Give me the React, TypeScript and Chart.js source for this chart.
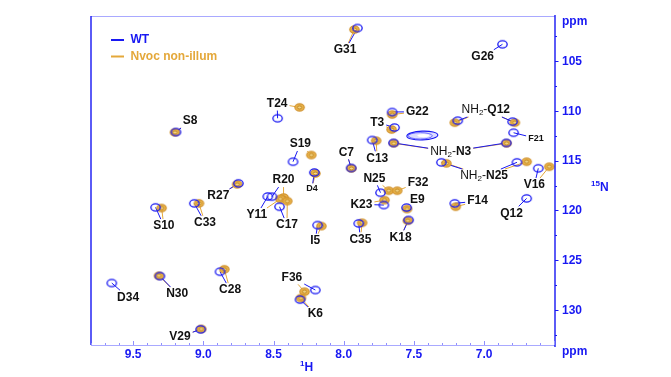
import React, { useEffect, useRef } from "react";
import { Chart, registerables } from "chart.js";
Chart.register(...registerables);

// ---- data (ppm) ----
const seriesNames = ["WT", "Nvoc non-illum"];
const peakLabels = [
  "G31", "G26", "T24", "G22", "T3", "NH₂-Q12", "NH₂-Q12", "F21", "NH₂-N3", "NH₂-N3",
  "S8", "C13", "S19", "C7", "D4", "NH₂-N25", "NH₂-N25", "V16", "R27", "R20",
  "Y11", "C17", "N25", "F32", "K23", "E9", "K18", "F14", "Q12", "S10",
  "C33", "I5", "C35", "D34", "N30", "C28", "F36", "K6", "V29",
];
const labelH = [
  7.99, 7.01, 8.474, 7.476, 7.761, 6.988, 6.988, 6.631, 7.238, 7.238,
  9.095, 7.761, 8.309, 7.981, 8.226, 7.0, 7.0, 6.642, 8.893, 8.429,
  8.619, 8.404, 7.781, 7.471, 7.874, 7.476, 7.595, 7.047, 6.804, 9.281,
  8.988, 8.203, 7.881, 9.536, 9.186, 8.809, 8.369, 8.202, 9.166,
];
const labelN = [
  103.9, 104.57, 109.27, 110.09, 111.15, 109.92, 109.92, 112.76, 114.1, 114.1,
  111.02, 114.77, 113.33, 114.17, 117.78, 116.55, 116.55, 117.45, 118.55, 116.95,
  120.46, 121.47, 116.78, 117.22, 119.39, 118.89, 122.7, 119.06, 120.29, 121.57,
  121.24, 123.04, 122.9, 128.72, 128.39, 128.0, 126.72, 130.4, 132.68,
];
const wtH = [
  7.902, 6.869, 8.471, 7.655, 7.638, 7.188, 6.797, 6.79, 7.645, 6.842,
  9.195, 7.797, 8.361, 7.947, 8.209, 7.304, 6.766, 6.614, 8.75, 8.511,
  8.541, 8.457, 7.738, null, 7.714, 7.552, 7.538, 7.209, 6.697, 9.34,
  9.064, 8.186, 7.893, 9.652, 9.309, 8.881, 8.202, 8.311, 9.019,
];
const wtN = [
  101.69, 103.32, 110.75, 110.12, 111.68, 110.99, 111.09, 112.2, 113.22, 113.22,
  112.13, 112.93, 115.11, 115.74, 116.19, 115.17, 115.17, 115.77, 117.28, 118.62,
  118.6, 119.63, 118.22, null, 119.46, 119.71, 120.96, 119.29, 118.79, 119.69,
  119.29, 121.47, 121.3, 127.29, 126.59, 126.15, 127.99, 128.95, 131.94,
];
const nvocH = [
  7.924, null, 8.314, 7.655, 7.659, 7.209, 6.781, null, 7.643, 6.84,
  9.202, 7.769, 8.231, 7.945, 8.202, 7.269, 6.697, 6.536, 8.759, 8.428,
  8.452, 8.402, 7.679, 7.619, 7.709, 7.549, 7.543, 7.202, null, 9.297,
  9.031, 8.159, 7.869, null, 9.316, 8.85, 8.279, 8.305, 9.015,
];
const nvocN = [
  101.84, null, 109.65, 110.37, 111.88, 111.19, 111.19, null, 113.26, 113.26,
  112.16, 113.0, 114.44, 115.78, 116.29, 115.27, 115.11, 115.61, 117.38, 118.7,
  118.84, 119.06, 118.02, 118.02, 118.96, 119.86, 121.03, 119.63, null, 119.76,
  119.29, 121.57, 121.24, null, 126.56, 125.91, 128.16, 128.8, 131.9,
];
const broadH = [7.44];
const broadN = [112.48];
const xTickLabels = [9.5, 9.0, 8.5, 8.0, 7.5, 7.0];
const yTickLabels = [105, 110, 115, 120, 125, 130];

// ---- styles ----
const BLUE = "#1818f2";
const ORANGE = "#E4A83A";
const LIGHT = "#a9a9ff";
const LABEL_FONT = '"Liberation Sans", Arial, sans-serif';
const smallLabels = ["F21", "D4"];

function makeMarker(kind: "wt" | "nv"): HTMLCanvasElement {
  const c = document.createElement("canvas");
  c.width = 13;
  c.height = 11;
  const g = c.getContext("2d")!;
  g.beginPath();
  g.ellipse(6.5, 5.5, 4.7, 3.6, 0, 0, Math.PI * 2);
  if (kind === "wt") {
    g.strokeStyle = BLUE;
    g.lineWidth = 1.3;
    g.stroke();
  } else {
    g.fillStyle = "#EAB44A";
    g.fill();
    g.strokeStyle = "#D0902A";
    g.lineWidth = 1.1;
    g.stroke();
    g.beginPath();
    g.ellipse(6.5, 5.5, 2.2, 1.5, 0, 0, Math.PI * 2);
    g.fillStyle = "#F6D98A";
    g.fill();
    g.strokeStyle = "#B97E1C";
    g.lineWidth = 0.9;
    g.stroke();
  }
  return c;
}

function labelParts(text: string) {
  if (text.startsWith("NH₂-")) {
    return [
      { t: "NH", f: `12px ${LABEL_FONT}`, dy: 0 },
      { t: "2", f: `8px ${LABEL_FONT}`, dy: 3 },
      { t: "-", f: `12px ${LABEL_FONT}`, dy: 0 },
      { t: text.slice(4), f: `bold 12px ${LABEL_FONT}`, dy: 0 },
    ];
  }
  const small = smallLabels.includes(text);
  return [{ t: text, f: `bold ${small ? 9 : 12}px ${LABEL_FONT}`, dy: 0 }];
}

function measureLabel(ctx: CanvasRenderingContext2D, text: string) {
  let w = 0;
  for (const p of labelParts(text)) {
    ctx.font = p.f;
    w += ctx.measureText(p.t).width;
  }
  return w;
}

function drawLabel(ctx: CanvasRenderingContext2D, text: string, cx: number, cy: number) {
  const parts = labelParts(text);
  let x = cx - measureLabel(ctx, text) / 2;
  ctx.textAlign = "left";
  ctx.textBaseline = "middle";
  ctx.fillStyle = "#111";
  for (const p of parts) {
    ctx.font = p.f;
    ctx.fillText(p.t, x, cy + p.dy);
    x += ctx.measureText(p.t).width;
  }
}

const overlayPlugin = {
  id: "nmrOverlay",
  beforeDatasetsDraw(chart: any) {
    const ctx = chart.ctx as CanvasRenderingContext2D;
    const xs = chart.scales.x;
    const ys = chart.scales.y;
    ctx.save();
    // broad side-chain peak
    broadH.forEach((h, i) => {
      const x = xs.getPixelForValue(h);
      const y = ys.getPixelForValue(broadN[i]);
      ctx.fillStyle = "#dcdcff";
      ctx.beginPath();
      ctx.ellipse(x, y, 15.5, 4.4, -0.04, 0, Math.PI * 2);
      ctx.fill();
      ctx.strokeStyle = BLUE;
      ctx.lineWidth = 1.1;
      ctx.stroke();
      ctx.beginPath();
      ctx.ellipse(x - 2, y + 0.3, 12, 3.2, 0, 0, Math.PI * 2);
      ctx.strokeStyle = "#5050ff";
      ctx.lineWidth = 0.8;
      ctx.stroke();
      ctx.beginPath();
      ctx.ellipse(x + 1, y, 6, 1.6, 0, 0, Math.PI * 2);
      ctx.fillStyle = "#ffffff";
      ctx.fill();
    });
    // connector lines
    peakLabels.forEach((lab, i) => {
      const cx = xs.getPixelForValue(labelH[i]);
      const cy = ys.getPixelForValue(labelN[i]);
      const hw = measureLabel(ctx, lab) / 2 + 2;
      const hh = smallLabels.includes(lab) ? 5 : 7;
      const targets: [number | null, number | null, string][] = [
        [nvocH[i], nvocN[i], ORANGE],
        [wtH[i], wtN[i], BLUE],
      ];
      for (const [h, n, col] of targets) {
        if (h == null || n == null) continue;
        const px = xs.getPixelForValue(h);
        const py = ys.getPixelForValue(n);
        const dx = px - cx;
        const dy = py - cy;
        const t = Math.min(
          dx !== 0 ? hw / Math.abs(dx) : Infinity,
          dy !== 0 ? hh / Math.abs(dy) : Infinity
        );
        if (t >= 1) continue;
        ctx.beginPath();
        ctx.moveTo(cx + dx * t, cy + dy * t);
        ctx.lineTo(px, py);
        ctx.strokeStyle = col;
        ctx.lineWidth = 1;
        ctx.stroke();
      }
    });
    ctx.restore();
  },
  afterDatasetsDraw(chart: any) {
    const ctx = chart.ctx as CanvasRenderingContext2D;
    const xs = chart.scales.x;
    const ys = chart.scales.y;
    ctx.save();
    const seen = new Set<string>();
    peakLabels.forEach((lab, i) => {
      const key = lab + labelH[i] + "," + labelN[i];
      if (seen.has(key)) return;
      seen.add(key);
      drawLabel(ctx, lab, xs.getPixelForValue(labelH[i]), ys.getPixelForValue(labelN[i]));
    });
    // legend
    const ca = chart.chartArea;
    const lx = ca.left + 20;
    const ly = ca.top + 24;
    [BLUE, ORANGE].forEach((col, k) => {
      const y = ly + k * 16.5;
      ctx.strokeStyle = col;
      ctx.lineWidth = 2;
      ctx.beginPath();
      ctx.moveTo(lx, y);
      ctx.lineTo(lx + 13, y);
      ctx.stroke();
      ctx.fillStyle = col;
      ctx.font = `bold 12px ${LABEL_FONT}`;
      ctx.textAlign = "left";
      ctx.textBaseline = "middle";
      ctx.fillText(seriesNames[k], lx + 19.5, y);
    });
    ctx.restore();
  },
  afterDraw(chart: any) {
    const ctx = chart.ctx as CanvasRenderingContext2D;
    const xs = chart.scales.x;
    const ys = chart.scales.y;
    const ca = chart.chartArea;
    ctx.save();
    // frame
    ctx.lineWidth = 1;
    ctx.strokeStyle = LIGHT;
    ctx.beginPath();
    ctx.moveTo(ca.left, ca.top + 0.5);
    ctx.lineTo(ca.right, ca.top + 0.5);
    ctx.moveTo(ca.left, ca.bottom + 0.5);
    ctx.lineTo(ca.right, ca.bottom + 0.5);
    ctx.stroke();
    ctx.strokeStyle = BLUE;
    ctx.lineWidth = 1.4;
    ctx.beginPath();
    ctx.moveTo(ca.left, ca.top);
    ctx.lineTo(ca.left, ca.bottom);
    ctx.moveTo(ca.right, ca.top - 1);
    ctx.lineTo(ca.right, ca.bottom + 2);
    ctx.stroke();
    // x ticks
    ctx.strokeStyle = "#8f8fff";
    ctx.lineWidth = 1;
    ctx.beginPath();
    for (let i = Math.ceil(xs.min * 10); i <= Math.floor(xs.max * 10); i++) {
      const x = Math.round(xs.getPixelForValue(i / 10)) + 0.5;
      const len = i % 5 === 0 ? 4 : 2;
      ctx.moveTo(x, ca.bottom);
      ctx.lineTo(x, ca.bottom - len);
    }
    ctx.stroke();
    // y ticks
    ctx.strokeStyle = BLUE;
    ctx.beginPath();
    for (let i = Math.ceil(ys.min / 2.5); i <= Math.floor(ys.max / 2.5); i++) {
      const v = i * 2.5;
      const y = Math.round(ys.getPixelForValue(v)) + 0.5;
      const len = i % 2 === 0 ? 3.5 : 2;
      ctx.moveTo(ca.right, y);
      ctx.lineTo(ca.right + len, y);
    }
    ctx.stroke();
    ctx.fillStyle = BLUE;
    ctx.font = `bold 12px ${LABEL_FONT}`;
    ctx.textBaseline = "middle";
    ctx.textAlign = "center";
    xTickLabels.forEach((v) => {
      ctx.fillText(v.toFixed(1), xs.getPixelForValue(v), ca.bottom + 10);
    });
    ctx.textAlign = "left";
    yTickLabels.forEach((v) => {
      ctx.fillText(String(v), ca.right + 7, ys.getPixelForValue(v) + 0.5);
    });
    ctx.fillText("ppm", ca.right + 7, ca.top + 5.5);
    ctx.fillText("ppm", ca.right + 7, ca.bottom + 6.5);
    // axis titles
    const hx = (ca.left + ca.right) / 2 - 17;
    ctx.font = `bold 8px ${LABEL_FONT}`;
    ctx.fillText("1", hx - 6, ca.bottom + 19);
    ctx.font = `bold 12px ${LABEL_FONT}`;
    ctx.fillText("H", hx - 1.5, ca.bottom + 22.5);
    const nx = ca.right + 36;
    const ny = 187;
    ctx.font = `bold 8px ${LABEL_FONT}`;
    ctx.fillText("15", nx, ny - 3);
    ctx.font = `bold 12px ${LABEL_FONT}`;
    ctx.fillText("N", nx + 9, ny + 0.5);
    ctx.restore();
  },
};

export default function App() {
  const ref = useRef<HTMLCanvasElement | null>(null);
  useEffect(() => {
    if (!ref.current) return;
    const wtMarker = makeMarker("wt");
    const nvMarker = makeMarker("nv");
    const wtPts = wtH
      .map((h, i) => (h != null && wtN[i] != null ? { x: h, y: wtN[i] as number } : null))
      .filter(Boolean);
    const nvPts = nvocH
      .map((h, i) => (h != null && nvocN[i] != null ? { x: h, y: nvocN[i] as number } : null))
      .filter(Boolean);
    const chart = new Chart(ref.current, {
      type: "scatter",
      data: {
        datasets: [
          {
            label: seriesNames[0],
            data: wtPts as any,
            pointStyle: wtMarker as any,
            borderColor: BLUE,
            backgroundColor: BLUE,
          },
          {
            label: seriesNames[1],
            data: nvPts as any,
            pointStyle: nvMarker as any,
            borderColor: ORANGE,
            backgroundColor: ORANGE,
          },
        ],
      },
      options: {
        responsive: false,
        animation: false,
        devicePixelRatio: 1,
        layout: { padding: { left: 91, top: 16, right: 116, bottom: 32 } },
        plugins: { legend: { display: false }, tooltip: { enabled: false } },
        scales: {
          x: { type: "linear", reverse: true, min: 6.495, max: 9.8, display: false },
          y: { type: "linear", reverse: true, min: 100.48, max: 133.51, display: false },
        },
      },
      plugins: [overlayPlugin],
    });
    return () => chart.destroy();
  }, []);
  return (
    <div style={{ position: "absolute", left: 0, top: 0, width: 671, height: 377, background: "#fff" }}>
      <canvas ref={ref} width={671} height={377} style={{ display: "block" }} />
    </div>
  );
}
